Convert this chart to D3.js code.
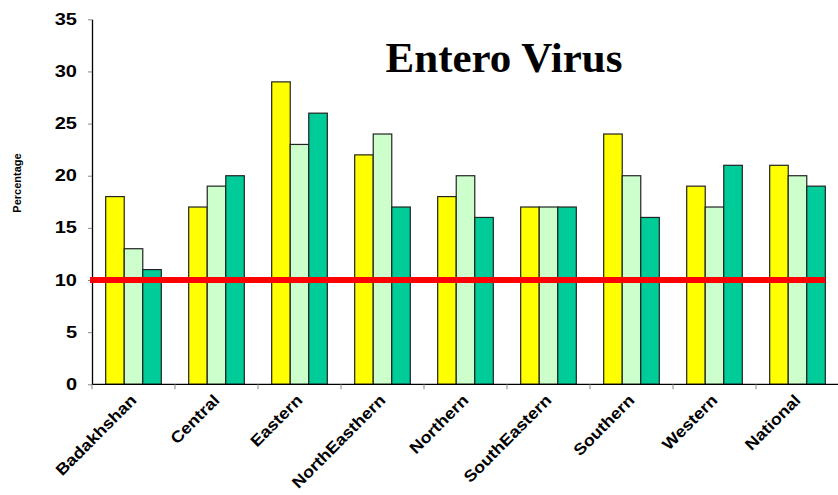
<!DOCTYPE html>
<html>
<head>
<meta charset="utf-8">
<script src="https://cdn.jsdelivr.net/npm/d3@7"></script>
<style>
  html, body { margin: 0; padding: 0; background: #fff; }
  svg { display: block; }
</style>
</head>
<body>
<svg id="chart" width="838" height="495"></svg>
<script>
const categories = ["Badakhshan", "Central", "Eastern", "NorthEasthern", "Northern", "SouthEastern", "Southern", "Western", "National"];
const series1 = [18, 17, 29, 22, 18, 17, 24, 19, 21];
const series2 = [13, 19, 23, 24, 20, 17, 20, 17, 20];
const series3 = [11, 20, 26, 17, 16, 17, 16, 21, 19];
const seriesColors = ["#FFFF00", "#CCFFCC", "#00CC99"];
const yTicks = [0, 5, 10, 15, 20, 25, 30, 35];
const threshold = 10;
const title = "Entero Virus";
const yTitle = "Percentage";

const svg = d3.select("#chart");
const mLeft = 92, mRight = 839, mTop = 19.3, mBottom = 384.3;
const sansFont = "Liberation Sans, Arial, sans-serif";

const x = d3.scaleBand().domain(categories).range([mLeft, mRight])
  .paddingInner(0.33).paddingOuter(0.165);
const seriesKeys = ["s1", "s2", "s3"];
const xs = d3.scaleBand().domain(seriesKeys).range([0, x.bandwidth()]);
const y = d3.scaleLinear().domain([0, 35]).range([mBottom, mTop]);

const data = categories.map((c, i) => ({ c, s1: series1[i], s2: series2[i], s3: series3[i] }));

// bars
const groups = svg.append("g").selectAll("g").data(data).join("g")
  .attr("transform", d => `translate(${x(d.c)},0)`);
groups.selectAll("rect")
  .data(d => seriesKeys.map((k, j) => ({ k, v: d[k], j })))
  .join("rect")
  .attr("x", d => xs(d.k))
  .attr("y", d => y(d.v))
  .attr("width", xs.bandwidth())
  .attr("height", d => y(0) - y(d.v))
  .attr("fill", d => seriesColors[d.j])
  .attr("stroke", "#222")
  .attr("stroke-width", 1.2);

// y axis
const yAxis = svg.append("g").attr("transform", `translate(${mLeft},0)`)
  .call(d3.axisLeft(y).tickValues(yTicks).tickSize(4).tickSizeOuter(0));
yAxis.select(".domain").attr("stroke", "#000").attr("stroke-width", 1.3);
yAxis.selectAll(".tick line").attr("stroke", "#888");
yAxis.selectAll(".tick text")
  .attr("x", -15 / 1.25)
  .attr("transform", "scale(1.25,1)")
  .attr("font-family", sansFont)
  .attr("font-weight", "bold").attr("font-size", 16).attr("fill", "#000");

// x axis line
const xAxis = svg.append("g").attr("transform", `translate(0,${mBottom})`);
xAxis.append("line").attr("x1", mLeft).attr("x2", mRight).attr("y1", 0).attr("y2", 0)
  .attr("stroke", "#000").attr("stroke-width", 1.3);
const boundaries = categories.map(c => x(c) - x.step() * x.paddingInner() / 2);
xAxis.selectAll("line.tk").data(boundaries).join("line").attr("class", "tk")
  .attr("x1", d => d).attr("x2", d => d).attr("y1", 0).attr("y2", 5)
  .attr("stroke", "#888");
xAxis.selectAll("text").data(categories).join("text")
  .attr("transform", c => `translate(${x(c) + x.bandwidth() / 2 + 4},${17}) rotate(-45) scale(1.12,1)`)
  .attr("text-anchor", "end")
  .attr("font-family", sansFont)
  .attr("font-weight", "bold").attr("font-size", 16).attr("fill", "#000")
  .text(c => c);

// threshold line
svg.append("line")
  .attr("x1", mLeft - 2)
  .attr("x2", x(categories[categories.length - 1]) + x.bandwidth())
  .attr("y1", y(threshold)).attr("y2", y(threshold))
  .attr("stroke", "#FF0000").attr("stroke-width", 6);

// title
svg.append("text").attr("x", 504).attr("y", 72).attr("text-anchor", "middle")
  .attr("font-family", "Liberation Serif, Times New Roman, serif")
  .attr("font-weight", "bold").attr("font-size", 43).attr("fill", "#000")
  .text(title);

// y title
svg.append("text").attr("transform", `translate(21,183) rotate(-90)`)
  .attr("text-anchor", "middle")
  .attr("font-family", sansFont)
  .attr("font-weight", "bold").attr("font-size", 11).attr("fill", "#000")
  .text(yTitle);
</script>
</body>
</html>
